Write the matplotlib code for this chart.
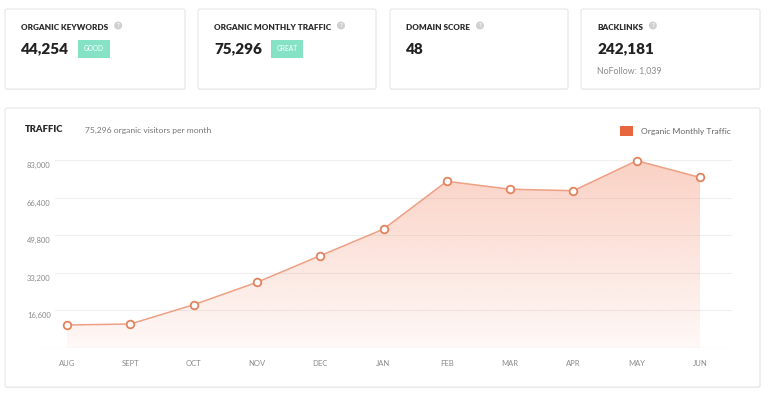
import matplotlib
matplotlib.use("Agg")
import matplotlib.pyplot as plt
import matplotlib.transforms as mtransforms
from matplotlib.patches import FancyBboxPatch, Rectangle, Circle, Patch
import numpy as np

# ---------------- data ----------------
months = ["AUG", "SEPT", "OCT", "NOV", "DEC", "JAN", "FEB", "MAR", "APR", "MAY", "JUN"]
traffic = [10150, 10600, 19100, 29000, 40750, 52500, 73600, 70100, 69450, 82700, 75296]
y_ticks = [16600, 33200, 49800, 66400, 83000]
y_tick_labels = ["16,600", "33,200", "49,800", "66,400", "83,000"]

card_titles = ["ORGANIC KEYWORDS", "ORGANIC MONTHLY TRAFFIC", "DOMAIN SCORE", "BACKLINKS"]
card_values = ["44,254", "75,296", "48", "242,181"]
card_badges = ["GOOD", "GREAT", None, None]
card_notes = [None, None, None, "NoFollow: 1,039"]

FONT = "Lato"
W, H = 768, 401
fig = plt.figure(figsize=(W / 100, H / 100), dpi=100)
fig.patch.set_facecolor("white")

# background axes in pixel coordinates
bg = fig.add_axes([0, 0, 1, 1])
bg.set_xlim(0, W)
bg.set_ylim(H, 0)
bg.axis("off")
renderer = fig.canvas.get_renderer()

def card(x0, y0, x1, y1):
    bg.add_patch(FancyBboxPatch((x0 + 0.5, y0 + 1), x1 - x0, y1 - y0,
                                boxstyle="round,pad=0,rounding_size=2",
                                fc="#f3f3f3", ec="none", zorder=1))
    bg.add_patch(FancyBboxPatch((x0, y0), x1 - x0, y1 - y0,
                                boxstyle="round,pad=0,rounding_size=2",
                                fc="white", ec="#e7e7e7", lw=0.8, zorder=2))

card_x = [(5, 185), (198, 376), (390, 568), (581, 760)]
for i, (x0, x1) in enumerate(card_x):
    card(x0, 9, x1, 89)
    tx = x0 + 16
    t = bg.text(tx, 27, card_titles[i], fontsize=5.9, fontweight="heavy", color="#2b2b2b",
                family=FONT, va="center", ha="left", zorder=3)
    bb = t.get_window_extent(renderer=renderer)
    cx = bb.x1 + 10
    bg.add_patch(Circle((cx, 25.5), 4, fc="#d0d0d0", ec="none", zorder=3))
    bg.text(cx, 25.8, "?", fontsize=4.5, color="white", ha="center", va="center",
            family=FONT, fontweight="bold", zorder=4)
    bg.text(tx, 49, card_values[i], fontsize=11, fontweight="heavy", color="#222222",
            family=FONT, va="center", ha="left", zorder=3)
    if card_badges[i]:
        bx = tx + 57
        bw = 32
        bg.add_patch(Rectangle((bx, 39.5), bw, 18, fc="#86e2c4", ec="none", zorder=3))
        bg.text(bx + bw / 2, 48.5, card_badges[i], fontsize=4.8, color="white",
                ha="center", va="center", family=FONT, zorder=4)
    if card_notes[i]:
        bg.text(tx, 71, card_notes[i], fontsize=6.3, color="#8a8a8a",
                ha="left", va="center", family=FONT, zorder=3)

# main panel
card(5, 108, 760, 387)
bg.text(25, 130, "TRAFFIC", fontsize=6.8, fontweight="heavy", color="#2b2b2b",
        family=FONT, va="center", ha="left", zorder=3)
bg.text(85, 130, "75,296 organic visitors per month", fontsize=6.1, color="#777777",
        family=FONT, va="center", ha="left", zorder=3)

# ---------------- chart axes ----------------
ax_l, ax_r, ax_t, ax_b = 36, 732, 160, 348
ax = fig.add_axes([ax_l / W, 1 - ax_b / H, (ax_r - ax_l) / W, (ax_b - ax_t) / H])
ax.patch.set_alpha(0)
x = np.arange(len(months))
step = (700 - 67) / 10.0
xlim = (-(67 - ax_l) / step, 10 + (ax_r - 700) / step)
for s in ax.spines.values():
    s.set_visible(False)

# gridlines
gx0 = (55 - ax_l) / (ax_r - ax_l)
for v in y_ticks:
    ax.axhline(v, xmin=gx0, xmax=1, color="#efefef", lw=0.8, zorder=1)
ax.axhline(0, color="#ececec", lw=0.8, zorder=1)

# gradient fill
poly = ax.fill_between(x, traffic, 0, color="none", zorder=2)
grad = np.zeros((256, 1, 4))
base = np.array([244, 145, 115]) / 255.0
grad[:, 0, :3] = base
grad[:, 0, 3] = np.linspace(0.42, 0.06, 256)
img = ax.imshow(grad, extent=(x[0], x[-1], 0, max(traffic)), origin="upper",
                aspect="auto", zorder=2, interpolation="bicubic")
ax.set_ylim(0, 83000)
ax.set_xlim(*xlim)
img.set_clip_path(poly.get_paths()[0], transform=ax.transData)

ax.plot(x, traffic, color="#eea084", lw=1.1, zorder=3, clip_on=False)
ax.plot(x, traffic, ls="none", marker="o", ms=5.5, mfc="white", mec="#e2825e",
        mew=1.3, zorder=4, clip_on=False)

# ticks
ax.set_xticks(x)
ax.set_xticklabels(months)
ax.tick_params(axis="x", length=0, pad=8.5, labelsize=5.5, labelcolor="#8a8a8a")
ax.set_yticks(y_ticks)
ax.set_yticklabels(y_tick_labels)
ax.tick_params(axis="y", length=0, pad=(ax_l - 27) * 0.72, labelsize=5.5, labelcolor="#8a8a8a")
off = mtransforms.ScaledTranslation(0, -5 / 100, fig.dpi_scale_trans)
for lbl in ax.get_yticklabels():
    lbl.set_ha("left")
    lbl.set_family(FONT)
    lbl.set_transform(lbl.get_transform() + off)
for lbl in ax.get_xticklabels():
    lbl.set_family(FONT)

# legend
leg = fig.legend(handles=[Patch(fc="#e8663d", ec="none", label="Organic Monthly Traffic")],
                 loc="center left", bbox_to_anchor=(616 / W, 1 - 131 / H),
                 frameon=False, handlelength=1.45, handleheight=1.45, handletextpad=0.95,
                 borderpad=0, prop={"family": FONT, "size": 6.1})
for t in leg.get_texts():
    t.set_color("#666666")

fig.savefig("out.png", dpi=100, facecolor="white")
